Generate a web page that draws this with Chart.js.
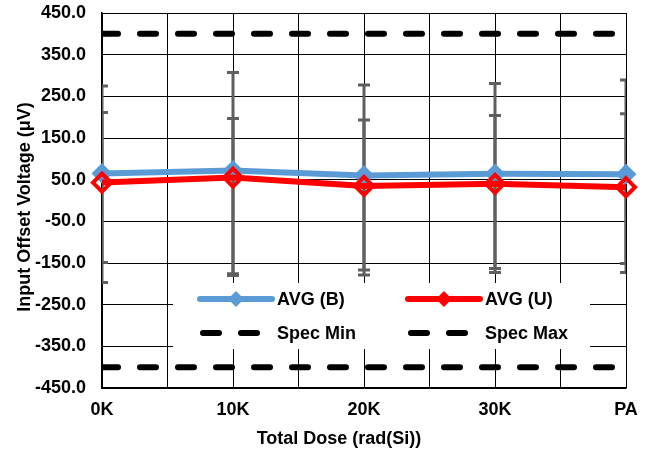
<!DOCTYPE html>
<html>
<head>
<meta charset="utf-8">
<script src="https://cdn.jsdelivr.net/npm/chart.js@4/dist/chart.umd.min.js"></script>
<style>
  body { margin: 0; background: #fff; }
</style>
</head>
<body>
<canvas id="chart" width="645" height="452"></canvas>
<script>
// values
const doseLabels = ['0K', '10K', '20K', '30K', 'PA'];
const avgB = [65, 72, 60, 64, 63];
const avgU = [43, 55, 35, 40, 32];
const specMin = [-400, -400, -400, -400, -400];
const specMax = [400, 400, 400, 400, 400];
// min / max whiskers for each series
const hiB = [211, 197, 193, 204, 208];
const loB = [-149, -176, -167, -163, -151];
const hiU = [275, 307, 277, 281, 289];
const loU = [-197, -180, -179, -173, -173];
const yTicks = [-450, 450, 100];

const FONT = "'Liberation Sans', Arial, sans-serif";

function toPoints(arr) {
    return arr.map((v, i) => ({ x: i, y: v }));
}

// gray whiskers under the lines
const errorBars = {
    id: 'errorBars',
    beforeDatasetsDraw(chart) {
        const { ctx, chartArea, scales } = chart;
        ctx.save();
        ctx.beginPath();
        ctx.rect(chartArea.left, chartArea.top, chartArea.width, chartArea.height);
        ctx.clip();
        ctx.strokeStyle = '#5f5f5f';
        ctx.lineWidth = 3;
        const pairs = [[hiB, loB], [hiU, loU]];
        pairs.forEach(([hi, lo]) => {
            hi.forEach((h, i) => {
                const x = scales.x.getPixelForValue(i);
                const yh = scales.y.getPixelForValue(h);
                const yl = scales.y.getPixelForValue(lo[i]);
                ctx.beginPath();
                ctx.moveTo(x, yh);
                ctx.lineTo(x, yl);
                ctx.moveTo(x - 6, yh);
                ctx.lineTo(x + 6, yh);
                ctx.moveTo(x - 6, yl);
                ctx.lineTo(x + 6, yl);
                ctx.stroke();
            });
        });
        ctx.restore();
    }
};

// boxed legend inside the plot, two columns, plus both axis titles
const boxLegend = {
    id: 'boxLegend',
    afterDraw(chart) {
        const ctx = chart.ctx;
        ctx.save();
        ctx.fillStyle = '#fff';
        ctx.fillRect(173, 283, 417, 66);

        function lineItem(x, y, color, label) {
            ctx.strokeStyle = color;
            ctx.lineWidth = 6;
            ctx.lineCap = 'round';
            ctx.beginPath();
            ctx.moveTo(x, y);
            ctx.lineTo(x + 72, y);
            ctx.stroke();
            ctx.fillStyle = color;
            ctx.beginPath();
            ctx.moveTo(x + 36, y - 8);
            ctx.lineTo(x + 44, y);
            ctx.lineTo(x + 36, y + 8);
            ctx.lineTo(x + 28, y);
            ctx.closePath();
            ctx.fill();
            text(x + 77, y, label);
        }
        function dashItem(x, y, label) {
            ctx.strokeStyle = '#000';
            ctx.lineWidth = 6;
            ctx.lineCap = 'round';
            ctx.beginPath();
            ctx.moveTo(x + 3, y);
            ctx.lineTo(x + 19, y);
            ctx.moveTo(x + 41, y);
            ctx.lineTo(x + 57, y);
            ctx.stroke();
            text(x + 77, y, label);
        }
        function text(x, y, label) {
            ctx.fillStyle = '#000';
            ctx.font = 'bold 18px ' + FONT;
            ctx.textAlign = 'left';
            ctx.textBaseline = 'middle';
            ctx.fillText(label, x, y + 1);
        }
        lineItem(200, 299, '#5B9BD5', 'AVG (B)');
        lineItem(408, 299, '#FF0000', 'AVG (U)');
        dashItem(200, 333, 'Spec Min');
        dashItem(408, 333, 'Spec Max');

        ctx.fillStyle = '#000';
        ctx.font = 'bold 18px ' + FONT;
        ctx.textAlign = 'center';
        ctx.textBaseline = 'middle';
        ctx.fillText('Total Dose (rad(Si))', 339, 439);

        ctx.translate(25, 207);
        ctx.rotate(-Math.PI / 2);
        ctx.fillText('Input Offset Voltage (μV)', 0, 0);
        ctx.restore();
    }
};

const specStyle = {
    borderColor: '#000',
    borderWidth: 6,
    borderDash: [16, 22],
    borderCapStyle: 'round',
    pointRadius: 0,
    fill: false,
    clip: 0
};

new Chart(document.getElementById('chart'), {
    type: 'line',
    data: {
        datasets: [
            {
                label: 'AVG (U)',
                data: toPoints(avgU),
                borderColor: '#FF0000',
                borderWidth: 6,
                pointStyle: 'rectRot',
                pointRadius: 9,
                pointBorderWidth: 4,
                pointBorderColor: '#FF0000',
                pointBackgroundColor: 'rgba(255,255,255,0)',
                clip: false
            },
            {
                label: 'AVG (B)',
                data: toPoints(avgB),
                borderColor: '#5B9BD5',
                borderWidth: 6,
                pointStyle: 'rectRot',
                pointRadius: 9,
                pointBorderWidth: 2,
                pointBorderColor: '#5B9BD5',
                pointBackgroundColor: '#5B9BD5',
                clip: false
            },
            Object.assign({ label: 'Spec Min', data: toPoints(specMin) }, specStyle),
            Object.assign({ label: 'Spec Max', data: toPoints(specMax) }, specStyle)
        ]
    },
    options: {
        responsive: false,
        animation: false,
        layout: { padding: { top: 13, right: 19, left: 0, bottom: 0 } },
        plugins: {
            legend: { display: false },
            tooltip: { enabled: false }
        },
        scales: {
            x: {
                type: 'linear',
                min: 0,
                max: doseLabels.length - 1,
                afterFit(scale) {
                    scale.height = 64;
                    scale.paddingLeft = 0;
                    scale.paddingRight = 0;
                },
                grid: { color: '#000', lineWidth: 1, drawTicks: false },
                border: { color: '#000', width: 1.5 },
                ticks: {
                    stepSize: 0.5,
                    padding: 11,
                    color: '#000',
                    font: { family: FONT, size: 18, weight: 'bold' },
                    maxRotation: 0,
                    autoSkip: false,
                    callback: v => Number.isInteger(v) ? doseLabels[v] : ''
                }
            },
            y: {
                min: yTicks[0],
                max: yTicks[1],
                afterFit(scale) {
                    scale.width = 102;
                    scale.paddingTop = 0;
                    scale.paddingBottom = 0;
                },
                grid: { color: '#000', lineWidth: 1, drawTicks: false },
                border: { color: '#000', width: 1.5 },
                ticks: {
                    stepSize: yTicks[2],
                    padding: 16,
                    color: '#000',
                    font: { family: FONT, size: 18, weight: 'bold' },
                    callback: v => v.toFixed(1)
                }
            }
        }
    },
    plugins: [errorBars, boxLegend]
});
</script>
</body>
</html>
